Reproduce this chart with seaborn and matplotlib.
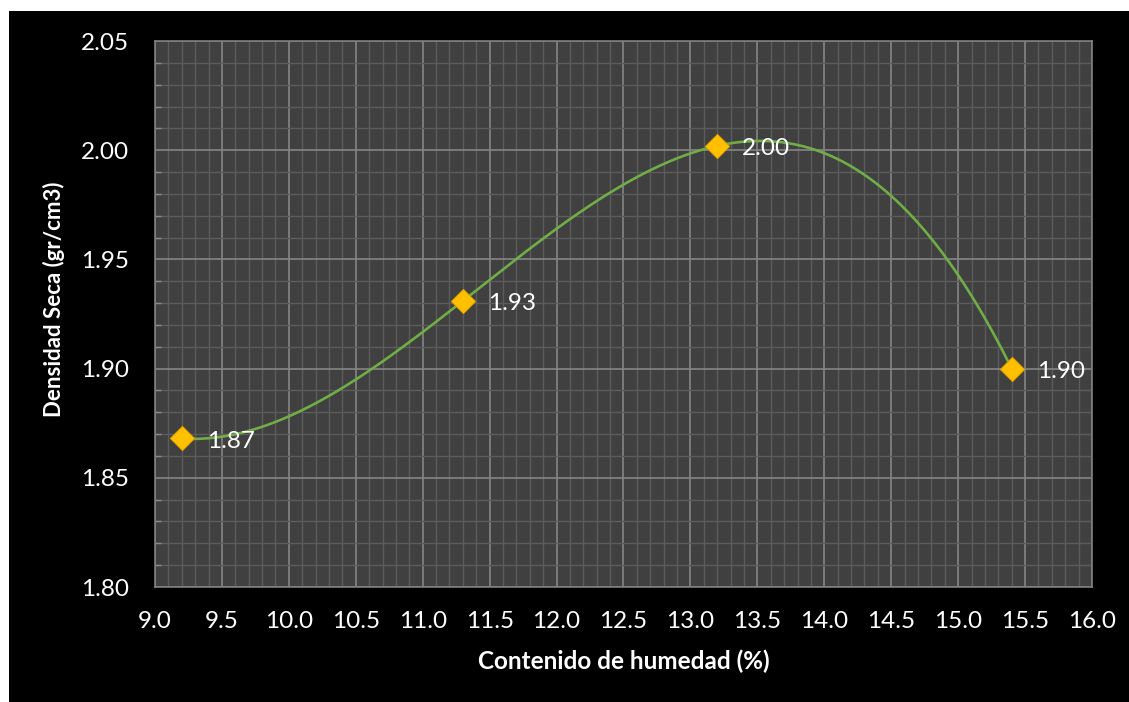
import numpy as np
import pandas as pd
import matplotlib
matplotlib.use("Agg")
import matplotlib.pyplot as plt
from matplotlib.patches import Rectangle
from matplotlib.ticker import MultipleLocator, FormatStrFormatter
import seaborn as sns

# Proctor test: moisture content vs dry density
humedad = [9.2, 11.3, 13.2, 15.4]
densidad = [1.868, 1.931, 2.002, 1.900]
etiquetas = ["1.87", "1.93", "2.00", "1.90"]

x_label = "Contenido de humedad (%)"
y_label = "Densidad Seca (gr/cm3)"

sns.set_theme(style="dark")
plt.rcParams["font.family"] = ["Lato", "DejaVu Sans"]

df = pd.DataFrame({"humedad": humedad, "densidad": densidad})

# third-order polynomial trend through the points
coef = np.polyfit(df["humedad"], df["densidad"], 3)
xs = np.linspace(min(humedad), max(humedad), 300)
curve = pd.DataFrame({"humedad": xs, "densidad": np.polyval(coef, xs)})

fig = plt.figure(figsize=(11.29, 7.02), dpi=100, facecolor="white")
fig.patches.append(Rectangle((9 / 1129, 0), 1 - 9 / 1129, 1 - 11 / 702,
                             transform=fig.transFigure, facecolor="black",
                             edgecolor="none", zorder=-10))
ax = fig.add_axes([155 / 1129, 115 / 702, 937 / 1129, 546 / 702])
ax.set_facecolor("#404040")

sns.lineplot(data=curve, x="humedad", y="densidad", ax=ax, color="#70AD47",
             linewidth=1.9, zorder=3)
sns.scatterplot(data=df, x="humedad", y="densidad", ax=ax, marker="D", s=150,
                color="#FFC000", edgecolor="#E3A500", linewidth=0.8, zorder=4)

for xv, yv, t in zip(humedad, densidad, etiquetas):
    ax.annotate(t, (xv, yv), xytext=(18, -2), textcoords="offset points",
                ha="left", va="center", color="white", fontsize=17.5, zorder=5)

ax.set_xlim(9.0, 16.0)
ax.set_ylim(1.80, 2.05)
ax.xaxis.set_major_locator(MultipleLocator(0.5))
ax.xaxis.set_minor_locator(MultipleLocator(0.1))
ax.yaxis.set_major_locator(MultipleLocator(0.05))
ax.yaxis.set_minor_locator(MultipleLocator(0.01))
ax.xaxis.set_major_formatter(FormatStrFormatter("%.1f"))
ax.yaxis.set_major_formatter(FormatStrFormatter("%.2f"))

ax.grid(which="minor", color="#5c5c5c", linewidth=1.0, zorder=0)
ax.grid(which="major", color="#858585", linewidth=1.2, zorder=1)
ax.set_axisbelow(True)

for s in ax.spines.values():
    s.set_visible(True)
    s.set_color("#7f7f7f")
    s.set_linewidth(1.2)

ax.tick_params(axis="both", which="major", colors="white", labelsize=17.5,
               length=0)
ax.tick_params(axis="x", which="major", pad=17)
ax.tick_params(axis="y", which="major", pad=19)
ax.tick_params(axis="y", which="minor", direction="in", length=4,
               color="#8c8c8c", left=True)
ax.tick_params(axis="x", which="minor", length=0)

ax.set_xlabel(x_label, color="white", fontsize=17.5, fontweight="bold")
ax.set_ylabel(y_label, color="white", fontsize=16, fontweight="bold")
ax.xaxis.set_label_coords(0.5, -0.115)
ax.yaxis.set_label_coords(-0.096, 0.527)

fig.savefig("out.png", dpi=100, facecolor=fig.get_facecolor())
